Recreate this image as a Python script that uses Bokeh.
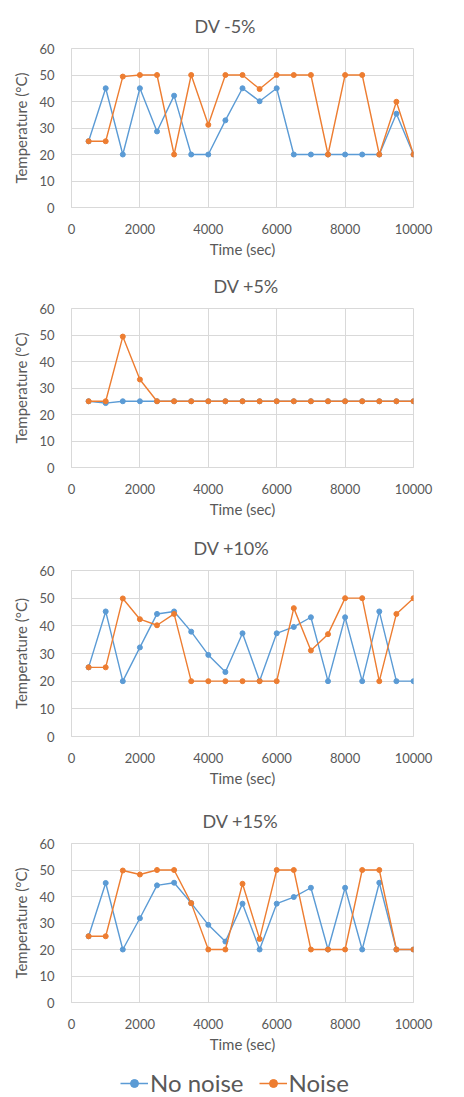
from bokeh.plotting import figure
from bokeh.layouts import column
from bokeh.models import Range1d, FixedTicker, Legend, LegendItem
from bokeh.embed import file_html
from bokeh.resources import INLINE

time_sec = [500, 1000, 1500, 2000, 2500, 3000, 3500, 4000, 4500, 5000,
            5500, 6000, 6500, 7000, 7500, 8000, 8500, 9000, 9500, 10000]

titles = ["DV -5%", "DV +5%", "DV +10%", "DV +15%"]
series_names = ["No noise", "Noise"]

dv_m5_no_noise = [25, 45, 20, 45, 28.7, 42.2, 20, 20, 32.9, 45,
                  40.1, 45, 20, 20, 20, 20, 20, 20, 35.4, 20]
dv_m5_noise = [25, 25, 49.4, 50, 50, 20, 50, 31.2, 50, 50,
               44.7, 50, 50, 50, 20, 50, 50, 20, 39.9, 20]

dv_p5_no_noise = [25, 24.3, 25, 25, 25, 25, 25, 25, 25, 25,
                  25, 25, 25, 25, 25, 25, 25, 25, 25, 25]
dv_p5_noise = [25, 25, 49.4, 33.2, 25, 25, 25, 25, 25, 25,
               25, 25, 25, 25, 25, 25, 25, 25, 25, 25]

dv_p10_no_noise = [25, 45.2, 20, 32.2, 44.3, 45.2, 37.9, 29.5, 23.3, 37.3,
                   20.1, 37.3, 39.6, 43.1, 20, 43.1, 20, 45.2, 20, 20]
dv_p10_noise = [25, 25, 49.9, 42.4, 40.2, 44.3, 20, 20, 20, 20,
                20, 20, 46.4, 31.1, 37, 50, 50, 20, 44.3, 50]

dv_p15_no_noise = [25, 45.1, 20, 31.8, 44.2, 45.2, 37.5, 29.3, 23, 37.3,
                   20, 37.3, 39.8, 43.3, 20, 43.3, 20, 45.2, 20, 20]
dv_p15_noise = [25, 25, 49.8, 48.3, 50, 50, 37.5, 20, 20, 44.8,
                24, 50, 50, 20, 20, 20, 50, 50, 20, 20]

x_ticks = [0, 2000, 4000, 6000, 8000, 10000]
y_ticks = [0, 10, 20, 30, 40, 50, 60]

BLUE = "#5B9BD5"
ORANGE = "#ED7D31"
TXT = "#595959"
GRID = "#D9D9D9"
FONT = "Lato"


def panel(title, blue, orange, height, left, right, top, bottom, title_x):
    p = figure(width=464, height=height, output_backend="svg", toolbar_location=None,
               x_range=Range1d(0, 10000), y_range=Range1d(0, 60),
               min_border_left=left, min_border_right=right,
               min_border_top=top, min_border_bottom=bottom,
               background_fill_color="white", border_fill_color="white")
    p.title.text = title
    p.title.align = "left"
    p.title.offset = title_x - left
    p.title.text_font = FONT
    p.title.text_font_size = "18px"
    p.title.text_font_style = "normal"
    p.title.text_color = TXT
    p.title.standoff = 24
    p.outline_line_color = GRID
    for ax in (p.xaxis[0], p.yaxis[0]):
        ax.axis_line_color = GRID
        ax.major_tick_line_color = None
        ax.minor_tick_line_color = None
        ax.major_label_text_font = FONT
        ax.major_label_text_font_size = "13px"
        ax.major_label_text_color = TXT
        ax.axis_label_text_font = FONT
        ax.axis_label_text_font_size = "15px"
        ax.axis_label_text_font_style = "normal"
        ax.axis_label_text_color = TXT
    p.xaxis.major_label_standoff = 10
    p.xaxis.axis_label_standoff = 3
    p.yaxis.major_label_standoff = 11
    p.yaxis.axis_label_standoff = 6
    p.xaxis.ticker = FixedTicker(ticks=x_ticks)
    p.yaxis.ticker = FixedTicker(ticks=y_ticks)
    p.xaxis.axis_label = "Time (sec)"
    p.yaxis.axis_label = "Temperature (°C)"
    p.xgrid.ticker = FixedTicker(ticks=x_ticks)
    p.ygrid.ticker = FixedTicker(ticks=y_ticks)
    p.xgrid.grid_line_color = GRID
    p.ygrid.grid_line_color = GRID
    p.line(time_sec, blue, line_color=BLUE, line_width=1.4)
    p.scatter(time_sec, blue, size=5, fill_color=BLUE, line_color=BLUE)
    p.line(time_sec, orange, line_color=ORANGE, line_width=1.4)
    p.scatter(time_sec, orange, size=5, fill_color=ORANGE, line_color=ORANGE)
    return p


p1 = panel(titles[0], dv_m5_no_noise, dv_m5_noise, 260, 71, 51, 48, 51, 194)
p2 = panel(titles[1], dv_p5_no_noise, dv_p5_noise, 260, 61, 19, 44, 50, 203)
p3 = panel(titles[2], dv_p10_no_noise, dv_p10_noise, 270, 67, 43, 50, 54, 189)
p4 = panel(titles[3], dv_p15_no_noise, dv_p15_noise, 270, 60, 32, 53, 58, 191)

# legend strip: series drawn outside its visible range, only the legend shows
lg = figure(width=464, height=37, output_backend="svg", toolbar_location=None,
            x_range=Range1d(0, 1), y_range=Range1d(0, 1),
            x_axis_location=None, y_axis_location=None,
            min_border_left=0, min_border_right=0, min_border_top=0, min_border_bottom=0,
            outline_line_color=None)
lg.grid.visible = False
bl = lg.line(time_sec, dv_p15_no_noise, line_color=BLUE, line_width=1.5)
bc = lg.scatter(time_sec, dv_p15_no_noise, size=6, fill_color=BLUE, line_color=BLUE)
ol = lg.line(time_sec, dv_p15_noise, line_color=ORANGE, line_width=1.5)
oc = lg.scatter(time_sec, dv_p15_noise, size=6, fill_color=ORANGE, line_color=ORANGE)
legend = Legend(items=[LegendItem(label=series_names[0], renderers=[bl, bc]),
                       LegendItem(label=series_names[1], renderers=[ol, oc])],
                orientation="horizontal", location=(49, 0),
                label_text_font=FONT, label_text_font_size="24px", label_text_color=TXT,
                glyph_width=28, glyph_height=20, label_standoff=2, spacing=15,
                border_line_color=None, background_fill_alpha=0,
                padding=0, margin=0)
lg.add_layout(legend, "center")

layout = column(p1, p2, p3, p4, lg, spacing=0)
open("out.html", "w").write(file_html(layout, INLINE))
